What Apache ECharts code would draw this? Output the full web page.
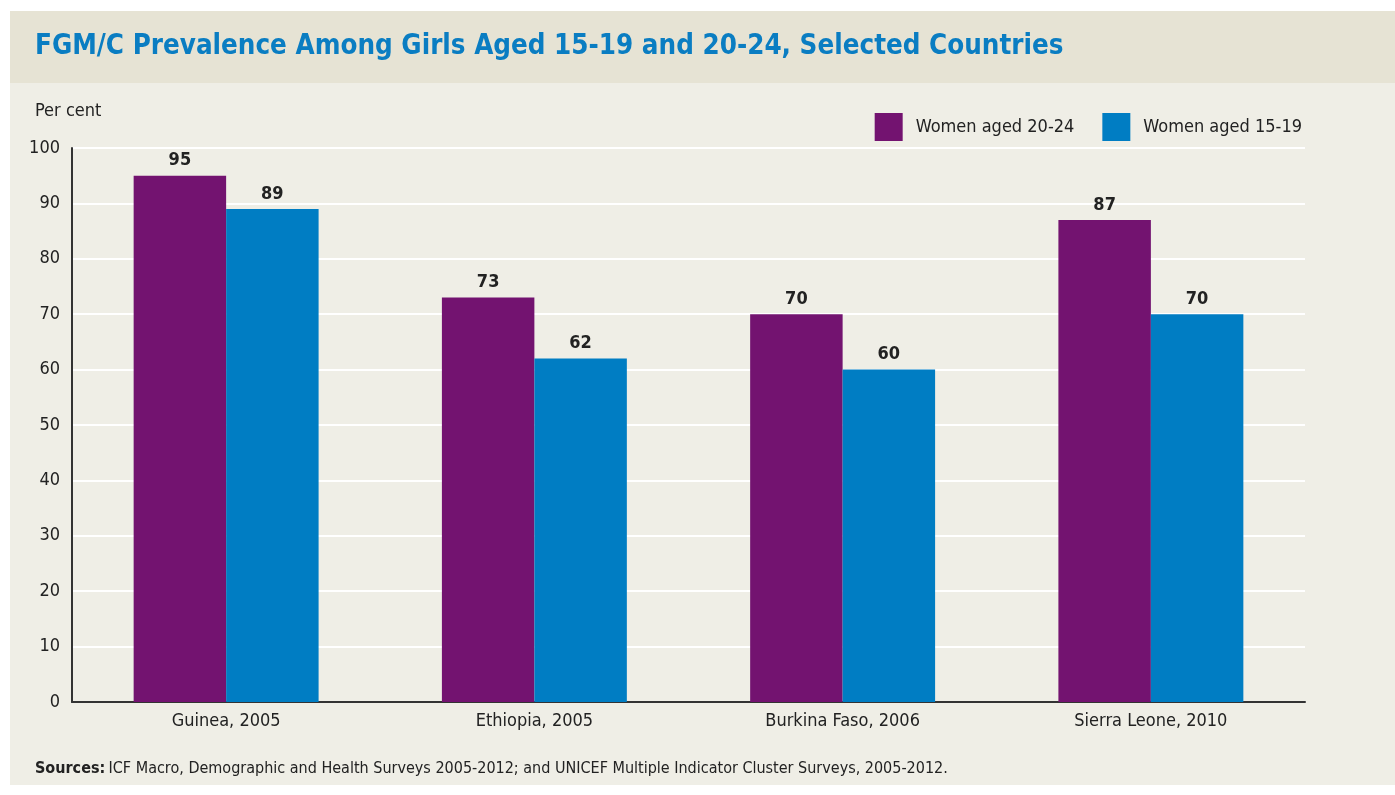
<!DOCTYPE html>
<html><head><meta charset="utf-8">
<script src="https://cdn.jsdelivr.net/npm/echarts@6/dist/echarts.min.js"></script>
<style>html,body{margin:0;padding:0;background:#fff}#c{width:1395px;height:795px}</style>
</head><body><div id="c"></div>
<script>
const categories = ['Guinea, 2005', 'Ethiopia, 2005', 'Burkina Faso, 2006', 'Sierra Leone, 2010'];
const women2024 = [95, 73, 70, 87];
const women1519 = [89, 62, 60, 70];
const seriesNames = ['Women aged 20-24', 'Women aged 15-19'];
const titleText = 'FGM/C Prevalence Among Girls Aged 15-19 and 20-24, Selected Countries';
const yAxisName = 'Per cent';

const FONT = '"Liberation Sans Narrow", "DejaVu Sans Condensed", "Roboto Condensed", sans-serif';
const chart = echarts.init(document.getElementById('c'));
chart.setOption({
  animation: false,
  backgroundColor: '#ffffff',
  graphic: [
    { type: 'rect', z: -10, shape: { x: 10, y: 11, width: 1385, height: 774 }, style: { fill: '#efeee6' } },
    { type: 'rect', z: -9, shape: { x: 10, y: 11, width: 1385, height: 72 }, style: { fill: '#e6e3d4' } },
    { type: 'text', left: 35, top: 33, style: { text: titleText, fill: '#0a7dc2', font: 'bold 27.5px ' + FONT } },
    { type: 'text', left: 35, top: 102, style: { text: yAxisName, fill: '#222', font: '18px ' + FONT } },
    { type: 'text', left: 35, top: 761, style: { rich: { b: { fontWeight: 'bold', fontSize: 16, fontFamily: FONT, fill: '#222' }, n: { fontSize: 16, fontFamily: FONT, fill: '#222' } },
      text: '{b|Sources:} {n|ICF Macro, Demographic and Health Surveys 2005-2012; and UNICEF Multiple Indicator Cluster Surveys, 2005-2012.}' } }
  ],
  legend: {
    right: 88, top: 108, itemWidth: 28, itemHeight: 28, itemGap: 28,
    icon: 'rect',
    textStyle: { fontFamily: FONT, fontSize: 18, color: '#222', padding: [0, 0, 0, 8] },
    data: seriesNames
  },
  grid: { left: 72, right: 90, top: 148, bottom: 93, containLabel: false },
  xAxis: {
    type: 'category', data: categories,
    axisLine: { lineStyle: { color: '#333', width: 2 } },
    axisTick: { show: false },
    axisLabel: { fontFamily: FONT, fontSize: 18, color: '#222', margin: 10 }
  },
  yAxis: {
    type: 'value', min: 0, max: 100, interval: 10,
    axisLine: { show: true, lineStyle: { color: '#333', width: 2 } },
    axisTick: { show: false },
    axisLabel: { fontFamily: FONT, fontSize: 18, color: '#222', margin: 12 },
    splitLine: { lineStyle: { color: '#ffffff', width: 2 } }
  },
  series: [
    { name: seriesNames[0], type: 'bar', data: women2024, barGap: '0%', barCategoryGap: '40%',
      itemStyle: { color: '#731370' },
      label: { show: true, position: 'top', distance: 6, fontFamily: FONT, fontWeight: 'bold', fontSize: 18, color: '#222' } },
    { name: seriesNames[1], type: 'bar', data: women1519, barGap: '0%', barCategoryGap: '40%',
      itemStyle: { color: '#007dc3' },
      label: { show: true, position: 'top', distance: 6, fontFamily: FONT, fontWeight: 'bold', fontSize: 18, color: '#222' } }
  ]
});
</script></body></html>
